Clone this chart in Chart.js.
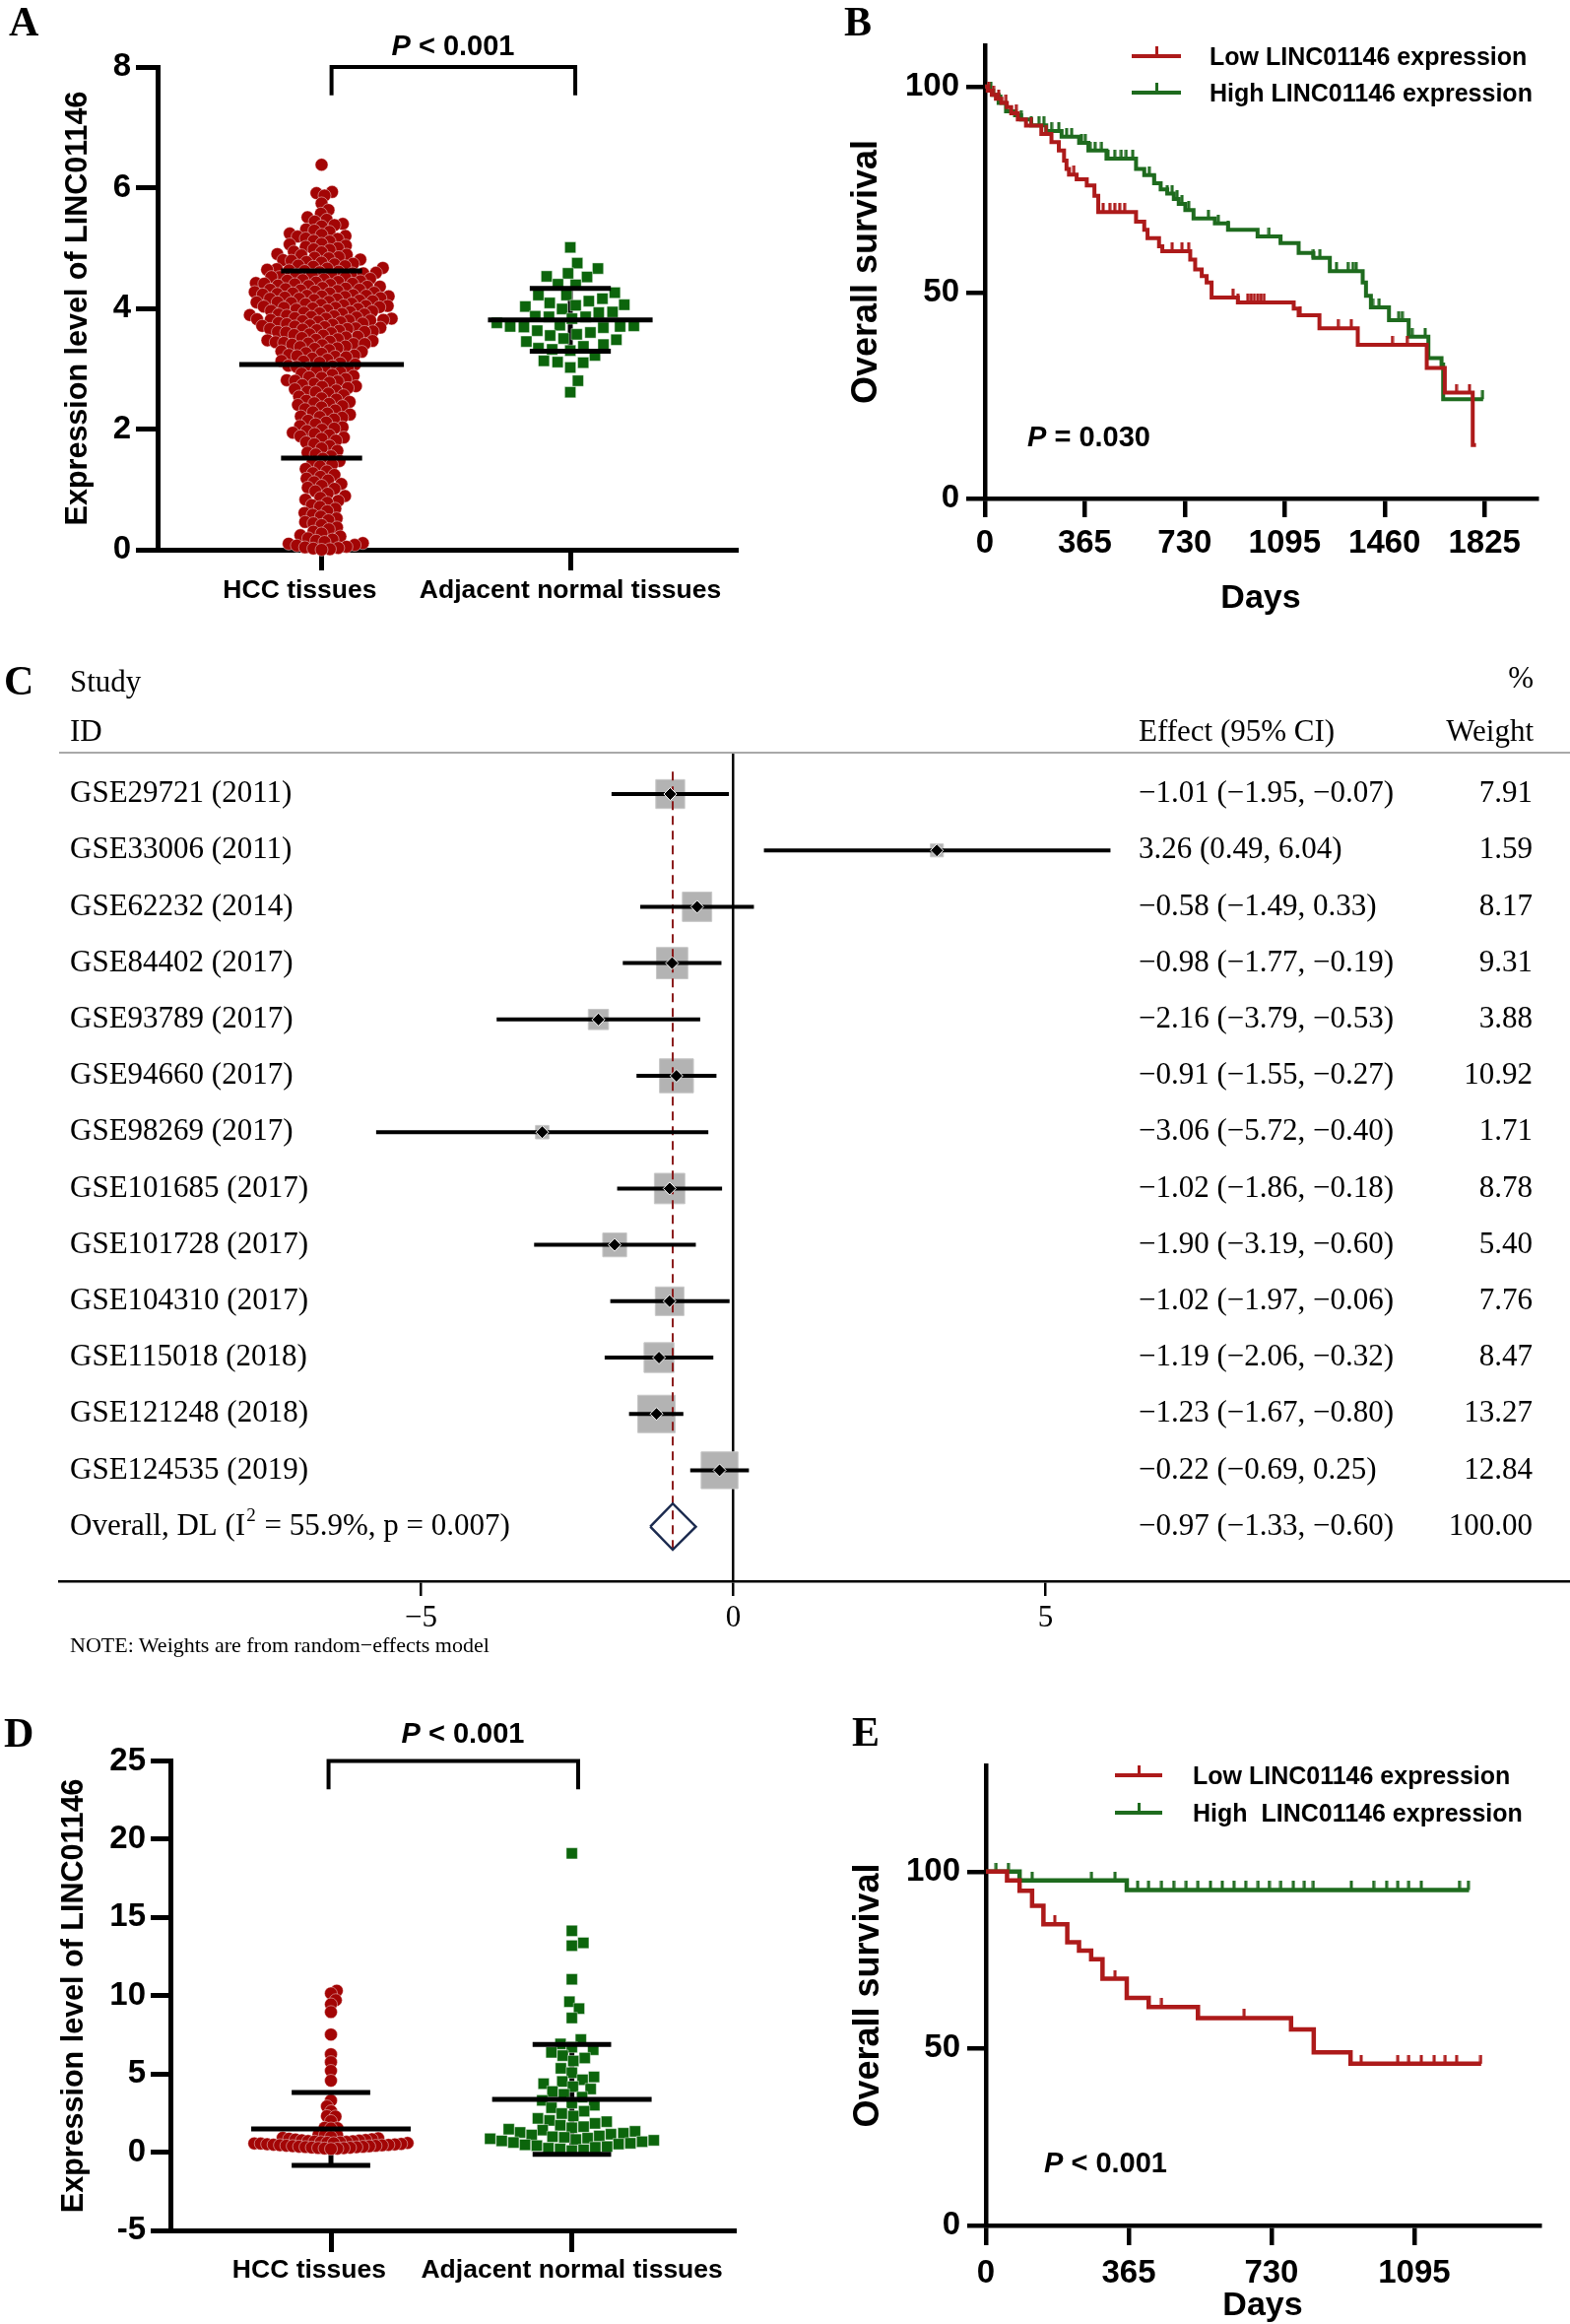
<!DOCTYPE html>
<html>
<head>
<meta charset="utf-8">
<title>LINC01146 expression and survival</title>
<script src="https://cdn.jsdelivr.net/npm/chart.js@4.4.0/dist/chart.umd.min.js"></script>
<style>
  html, body { margin: 0; padding: 0; background: #fff; }
  #page { position: relative; width: 1594px; height: 2359px; overflow: hidden; background: #fff; }
  .box { position: absolute; }
  .txt { position: absolute; line-height: 0; white-space: pre; color: #000; }
  .sans { font-family: "Liberation Sans", Arial, Helvetica, sans-serif; font-weight: bold; }
  .serif { font-family: "Liberation Serif", "Times New Roman", serif; }
  .letter { font-family: "Liberation Serif", "Times New Roman", serif; font-weight: bold; font-size: 42px; }
  .key { position: absolute; height: 4px; }
  .key::after { content: ''; position: absolute; left: 50%; margin-left: -1.5px; bottom: 4px; width: 3px; height: 8px; background: inherit; }
  .rule { position: absolute; height: 2px; background: #a9a9a9; }
</style>
</head>
<body>
<div id="page">
  <div class="box" style="left:0;top:0;width:790px;height:640px"><canvas id="chartA"></canvas></div>
  <div class="box" style="left:800px;top:0;width:794px;height:650px"><canvas id="chartB"></canvas></div>
  <div class="box" style="left:0;top:660px;width:1594px;height:1040px"><canvas id="chartC"></canvas></div>
  <div class="box" style="left:0;top:1720px;width:790px;height:660px"><canvas id="chartD"></canvas></div>
  <div class="box" style="left:800px;top:1720px;width:794px;height:660px"><canvas id="chartE"></canvas></div>

  <!-- panel letters -->
  <div class="txt letter" style="left:9px;top:22px">A</div>
  <div class="txt letter" style="left:857px;top:22px">B</div>
  <div class="txt letter" style="left:4px;top:691px">C</div>
  <div class="txt letter" style="left:4px;top:1759px">D</div>
  <div class="txt letter" style="left:865px;top:1758px">E</div>

  <!-- p values -->
  <div class="txt sans" style="left:460px;top:46px;font-size:29px;transform:translateX(-50%)"><i>P</i> &lt; 0.001</div>
  <div class="txt sans" style="left:1043px;top:443px;font-size:29px"><i>P</i> = 0.030</div>
  <div class="txt sans" style="left:470px;top:1759px;font-size:29px;transform:translateX(-50%)"><i>P</i> &lt; 0.001</div>
  <div class="txt sans" style="left:1060px;top:2195px;font-size:29px"><i>P</i> &lt; 0.001</div>

  <!-- survival legends -->
  <div class="key" style="left:1149px;top:55px;width:50px;background:#ad1a1a"></div>
  <div class="txt sans" style="left:1228px;top:57px;font-size:25px">Low LINC01146 expression</div>
  <div class="key" style="left:1149px;top:92px;width:50px;background:#1e6b1e"></div>
  <div class="txt sans" style="left:1228px;top:94px;font-size:25px">High LINC01146 expression</div>

  <div class="key" style="left:1132px;top:1800px;width:48px;background:#ad1a1a"></div>
  <div class="txt sans" style="left:1211px;top:1802px;font-size:25px">Low LINC01146 expression</div>
  <div class="key" style="left:1132px;top:1838px;width:48px;background:#1e6b1e"></div>
  <div class="txt sans" style="left:1211px;top:1840px;font-size:25px">High  LINC01146 expression</div>

  <!-- forest plot header -->
  <div class="txt serif" style="left:71px;top:692px;font-size:31px">Study</div>
  <div class="txt serif" style="left:71px;top:742px;font-size:31px">ID</div>
  <div class="txt serif" style="left:1557px;top:688px;font-size:31px;transform:translateX(-100%)">%</div>
  <div class="txt serif" style="left:1156px;top:742px;font-size:31px">Effect (95% CI)</div>
  <div class="txt serif" style="left:1557px;top:742px;font-size:31px;transform:translateX(-100%)">Weight</div>
  <div class="rule" style="left:60px;top:763px;width:1534px"></div>
  <div class="txt serif" style="left:71px;top:1670px;font-size:22px">NOTE: Weights are from random−effects model</div>
</div>

<script>
/* ── Couleurs et polices ── */
const RED = '#a30505';
const GREEN = '#0c650c';
const KM_RED = '#ad1a1a';
const KM_GREEN = '#1e6b1e';
const SANS = '"Liberation Sans", Arial, Helvetica, sans-serif';
const SERIF = '"Liberation Serif", "Times New Roman", serif';

/* ── A : expression TCGA ── */
const groupNames = ['HCC tissues', 'Adjacent normal tissues'];
const yTicksA = [0, 2, 4, 6, 8];
const hccA = [
  6.38, 5.93, 5.91, 5.87, 5.74, 5.63, 5.57, 5.51, 5.47, 5.44, 5.40,
  5.38, 5.36, 5.31, 5.29, 5.27, 5.24, 5.22, 5.20, 5.19, 5.16, 5.15, 5.12, 5.11, 5.07, 5.06, 5.04, 5.02, 5.00,
  4.98, 4.97, 4.94, 4.93, 4.90, 4.89, 4.88, 4.85, 4.84, 4.83, 4.81, 4.80,
  4.79, 4.77, 4.76, 4.74, 4.73, 4.71, 4.70, 4.69, 4.67, 4.66, 4.65, 4.64, 4.63, 4.62, 4.61, 4.60,
  4.59, 4.58, 4.58, 4.56, 4.55, 4.54, 4.52, 4.52, 4.51, 4.49, 4.48, 4.47, 4.46, 4.45, 4.44, 4.43, 4.42, 4.41, 4.41, 4.40,
  4.39, 4.38, 4.37, 4.36, 4.36, 4.34, 4.33, 4.32, 4.31, 4.31, 4.30, 4.29, 4.28, 4.27, 4.26, 4.25, 4.25, 4.24, 4.23, 4.22, 4.21, 4.21, 4.20, 4.20,
  4.19, 4.18, 4.17, 4.16, 4.16, 4.15, 4.14, 4.13, 4.12, 4.11, 4.10, 4.10, 4.09, 4.08, 4.07, 4.06, 4.05, 4.04, 4.04, 4.03, 4.02, 4.01, 4.01, 4.00,
  3.99, 3.98, 3.97, 3.96, 3.95, 3.94, 3.93, 3.92, 3.91, 3.90, 3.90, 3.89, 3.88, 3.87, 3.86, 3.85, 3.84, 3.83, 3.83, 3.82, 3.81, 3.81, 3.80, 3.80,
  3.79, 3.78, 3.77, 3.76, 3.75, 3.74, 3.73, 3.72, 3.71, 3.70, 3.69, 3.68, 3.67, 3.66, 3.66, 3.65, 3.64, 3.63, 3.62, 3.61, 3.61, 3.60,
  3.59, 3.57, 3.56, 3.55, 3.53, 3.52, 3.51, 3.49, 3.48, 3.47, 3.46, 3.45, 3.44, 3.43, 3.42, 3.41, 3.41, 3.40,
  3.39, 3.37, 3.36, 3.34, 3.33, 3.31, 3.29, 3.28, 3.26, 3.25, 3.23, 3.22, 3.21, 3.20,
  3.19, 3.17, 3.15, 3.13, 3.12, 3.10, 3.09, 3.07, 3.05, 3.04, 3.03, 3.01, 3.00,
  2.99, 2.96, 2.94, 2.92, 2.90, 2.88, 2.86, 2.85, 2.83, 2.81, 2.80,
  2.79, 2.77, 2.75, 2.73, 2.71, 2.70, 2.68, 2.66, 2.64, 2.62, 2.61,
  2.59, 2.56, 2.54, 2.51, 2.49, 2.47, 2.45, 2.43, 2.42, 2.40,
  2.38, 2.36, 2.33, 2.31, 2.28, 2.26, 2.24, 2.21, 2.20,
  2.19, 2.16, 2.14, 2.11, 2.08, 2.05, 2.03, 2.01,
  1.99, 1.97, 1.94, 1.92, 1.90, 1.88, 1.86, 1.84, 1.81,
  1.78, 1.75, 1.72, 1.68, 1.64, 1.61, 1.58, 1.55, 1.51, 1.47, 1.44, 1.41,
  1.38, 1.34, 1.30, 1.27, 1.24, 1.21, 1.18, 1.15, 1.12, 1.09, 1.06, 1.03, 1.01,
  0.97, 0.93, 0.89, 0.86, 0.83, 0.81, 0.78, 0.74, 0.71, 0.68, 0.64, 0.61,
  0.58, 0.55, 0.52, 0.49, 0.46, 0.44, 0.41, 0.37, 0.34,
  0.30, 0.27, 0.24, 0.22, 0.19, 0.17, 0.15, 0.13, 0.11, 0.10, 0.08, 0.07, 0.05, 0.04, 0.03, 0.02, 0.01, 0.00
];
const normalA = [
  5.01, 4.66, 4.75, 4.58, 4.52, 4.53, 4.39, 4.40, 4.22, 4.22, 4.26, 4.12, 4.09, 4.16, 4.03, 4.05, 4.06,
  3.99, 3.94, 3.93, 3.86, 3.83, 3.87, 3.86, 3.76, 3.70, 3.71, 3.69, 3.68, 3.70, 3.72, 3.60, 3.57, 3.55,
  3.63, 3.48, 3.50, 3.40, 3.45, 3.37, 3.34, 3.32, 3.30, 3.22, 3.11, 3.10, 3.02, 3.13, 2.80, 2.61
];
const hccStatA = [3.07, 1.55];     // moyenne, écart-type
const normalStatA = [3.81, 0.52];

/* ── B : survie TCGA ── */
const dayTicksB = [0, 365, 730, 1095, 1460, 1825];
const survTicks = [0, 50, 100];
const lowTimeB = [0, 10, 25, 40, 60, 80, 96, 120, 150, 206, 243, 270, 289, 298, 307, 335, 372, 400, 414,
  552, 582, 594, 636, 648, 750, 768, 792, 810, 828, 924, 1128, 1146, 1222, 1362, 1614, 1680, 1782, 1794];
const lowSurvB = [100, 99, 98, 97, 96, 95, 93.5, 92, 90.5, 88.5, 86.5, 84.5, 82, 80, 78.6, 77.5, 76, 73.5, 69.5,
  67.2, 65.2, 63.2, 61.2, 60, 58, 55.6, 54, 52.4, 48.8, 47.6, 46.1, 44.5, 41.3, 37.3, 31.7, 25.7, 13, 13];
const lowCensB = [13, 31, 50, 77, 114, 169, 224, 270, 325, 432, 456, 474, 492, 510, 684, 720, 744, 906, 924,
  960, 972, 984, 996, 1008, 1020, 1152, 1290, 1338, 1488, 1542, 1722, 1770];
const highTimeB = [0, 15, 30, 50, 77, 110, 132, 169, 224, 280, 344, 378, 444, 552, 582, 618, 642, 666, 690, 708,
  732, 762, 840, 888, 996, 1080, 1146, 1200, 1260, 1380, 1392, 1410, 1476, 1548, 1620, 1668, 1674, 1820];
const highSurvB = [100, 99, 98, 96, 94, 93, 92, 90.6, 89.2, 87.8, 86.3, 84.5, 82.5, 80, 78.5, 76.5, 75, 74, 72.7, 71.5,
  70, 68, 66.8, 65.2, 63.6, 62, 59.6, 58.4, 55.2, 52.4, 49.2, 46.4, 43.3, 39.3, 34.1, 32.5, 24.1, 24.1];
const highCensB = [22, 59, 132, 169, 197, 215, 243, 270, 298, 317, 353, 366, 384, 402, 426, 450, 474, 498, 516, 540,
  600, 618, 666, 684, 702, 720, 744, 816, 852, 888, 1038, 1080, 1200, 1224, 1284, 1326, 1344, 1356, 1416, 1440,
  1512, 1524, 1560, 1608, 1818];

/* ── C : méta-analyse GEO ── */
const studies = ['GSE29721 (2011)', 'GSE33006 (2011)', 'GSE62232 (2014)', 'GSE84402 (2017)', 'GSE93789 (2017)',
  'GSE94660 (2017)', 'GSE98269 (2017)', 'GSE101685 (2017)', 'GSE101728 (2017)', 'GSE104310 (2017)',
  'GSE115018 (2018)', 'GSE121248 (2018)', 'GSE124535 (2019)'];
const effects = [-1.01, 3.26, -0.58, -0.98, -2.16, -0.91, -3.06, -1.02, -1.90, -1.02, -1.19, -1.23, -0.22];
const lowerCI = [-1.95, 0.49, -1.49, -1.77, -3.79, -1.55, -5.72, -1.86, -3.19, -1.97, -2.06, -1.67, -0.69];
const upperCI = [-0.07, 6.04, 0.33, -0.19, -0.53, -0.27, -0.40, -0.18, -0.60, -0.06, -0.32, -0.80, 0.25];
const weights = [7.91, 1.59, 8.17, 9.31, 3.88, 10.92, 1.71, 8.78, 5.40, 7.76, 8.47, 13.27, 12.84];
const overallCI = [-0.97, -1.33, -0.60];   // effet, borne basse, borne haute
const overallWeight = 100;
const forestTicks = [-5, 0, 5];

/* ── D : expression cohorte ── */
const yTicksD = [-5, 0, 5, 10, 15, 20, 25];
const hccD = [10.32, 10.15, 9.72, 9.45, 8.96, 7.52, 6.26, 5.76, 5.20, 4.57, 3.30, 2.93, 2.62, 2.31, 2.28, 1.99,
  1.56, 1.54, 1.52, 1.12, 1.10, 1.08, 0.97, 0.92, 0.89, 0.86, 0.83, 0.81, 0.78, 0.76, 0.74, 0.71, 0.70, 0.68,
  0.66, 0.64, 0.63, 0.61, 0.59, 0.58, 0.56, 0.55, 0.53, 0.51, 0.50, 0.48, 0.47, 0.45, 0.44, 0.42, 0.41, 0.39,
  0.38, 0.36, 0.35, 0.33, 0.32, 0.30, 0.29, 0.27, 0.26, 0.24, 0.23, 0.21];
const normalD = [19.10, 14.15, 13.38, 13.20, 11.05, 9.62, 9.18, 8.58, 7.20, 6.92, 6.71, 6.55, 6.38, 6.17, 6.02,
  5.83, 5.36, 5.08, 4.81, 4.63, 4.52, 4.38, 4.19, 4.04, 3.88, 3.70, 3.52, 3.31, 3.14, 3.00, 2.84, 2.62, 2.47,
  2.31, 2.16, 2.03, 1.95, 1.84, 1.72, 1.63, 1.56, 1.47, 1.41, 1.33, 1.26, 1.21, 1.15, 1.10, 1.04, 0.99, 0.95,
  0.90, 0.86, 0.81, 0.76, 0.72, 0.67, 0.62, 0.57, 0.52, 0.47, 0.42, 0.36, 0.31, 0.26, 0.21, 0.15, 0.10];
const hccStatD = [1.48, 2.33];
const normalStatD = [3.38, 3.51];

/* ── E : survie cohorte ── */
const dayTicksE = [0, 365, 730, 1095];
const lowTimeE = [0, 54, 86, 118, 147, 208, 238, 269, 298, 360, 416, 542, 780, 838, 932, 1266];
const lowSurvE = [100, 97.5, 94.6, 90.3, 85.1, 80, 77.7, 75.2, 69.7, 64.3, 61.7, 58.6, 55.4, 48.9, 45.7, 45.7];
const lowCensE = [176, 330, 449, 660, 959, 1053, 1081, 1113, 1146, 1174, 1203, 1265];
const highTimeE = [0, 86, 360, 1235];
const highSurvE = [100, 97.5, 94.8, 94.8];
const highCensE = [26, 57, 118, 270, 330, 388, 416, 449, 480, 512, 542, 574, 604, 634, 664, 696, 724, 754, 786,
  814, 837, 934, 991, 1024, 1053, 1081, 1113, 1210, 1233];

/* ── Outils ── */
const sansFont = size => ({ family: SANS, size, weight: 'bold' });
const numLabel = v => String(v);
const GAP = { x: null, y: null };

function xAxis(o) {
  return {
    type: 'linear', min: o.min, max: o.max,
    afterFit: s => { s.height = o.height; },
    afterBuildTicks: s => { s.ticks = o.ticks.map(v => ({ value: v })); },
    ticks: { autoSkip: false, maxRotation: 0, padding: o.pad, color: '#000', font: o.font, callback: o.label || numLabel },
    grid: { drawOnChartArea: false, tickLength: o.tick, lineWidth: o.lw, color: '#000' },
    border: { color: '#000', width: o.lw },
    title: o.title ? { display: true, text: o.title, color: '#000', font: sansFont(34), padding: { top: 0, bottom: o.titlePad } } : { display: false }
  };
}

function yAxis(o) {
  return {
    type: 'linear', min: o.min, max: o.max,
    afterFit: s => { s.width = o.width; },
    afterBuildTicks: s => { s.ticks = o.ticks.map(v => ({ value: v })); },
    ticks: { autoSkip: false, padding: o.pad, color: '#000', font: sansFont(33), callback: numLabel },
    grid: { drawOnChartArea: false, tickLength: o.tick, lineWidth: o.lw, color: '#000' },
    border: { color: '#000', width: o.lw },
    title: { display: true, text: o.title, color: '#000', font: sansFont(o.titleSize), padding: { top: o.titlePad, bottom: 0 } }
  };
}

function baseOptions(padding, scales) {
  return {
    responsive: true, maintainAspectRatio: false, animation: false, events: [],
    layout: { padding, autoPadding: false },
    plugins: { legend: { display: false }, tooltip: { enabled: false } },
    scales
  };
}

/* Moyenne et barres d'écart-type (traits horizontaux) */
function statBars(center, stat, wMean, wSd) {
  const [m, sd] = stat;
  return [
    { x: center - wMean, y: m }, { x: center + wMean, y: m }, GAP,
    { x: center - wSd, y: m + sd }, { x: center + wSd, y: m + sd }, GAP,
    { x: center - wSd, y: m - sd }, { x: center + wSd, y: m - sd }, GAP
  ];
}
/* Trait vertical de l'écart-type */
const statStem = (center, stat) => [{ x: center, y: stat[0] - stat[1] }, { x: center, y: stat[0] + stat[1] }, GAP];

/* Nuage en essaim (beeswarm) calculé à partir des valeurs */
function swarm(chart, dsIndex, center, values, gap) {
  const xs = chart.scales.x, ys = chart.scales.y;
  const cx = xs.getPixelForValue(center);
  const placed = [];
  const out = new Array(values.length);
  const order = values.map((v, i) => i).sort((a, b) => values[a] - values[b]);
  order.forEach(i => {
    const py = ys.getPixelForValue(values[i]);
    const near = placed.filter(p => Math.abs(p.y - py) < gap);
    const cands = [0];
    near.forEach(p => {
      const dx = Math.sqrt(gap * gap - (p.y - py) * (p.y - py));
      cands.push(p.x - cx + dx, p.x - cx - dx);
    });
    cands.sort((a, b) => Math.abs(a) - Math.abs(b));
    let px = cx;
    for (const c of cands) {
      const x = cx + c;
      if (near.every(p => (p.x - x) * (p.x - x) + (p.y - py) * (p.y - py) >= gap * gap - 0.01)) { px = x; break; }
    }
    placed.push({ x: px, y: py });
    out[i] = { x: xs.getValueForPixel(px), y: values[i] };
  });
  chart.data.datasets[dsIndex].data = out;
}

/* Kaplan-Meier */
const kmLine = (times, surv) => times.map((t, i) => ({ x: t, y: surv[i] }));
function survAt(times, surv, t) {
  let s = surv[0];
  times.forEach((ti, i) => { if (ti <= t) s = surv[i]; });
  return s;
}
const kmCensor = (cens, times, surv) => cens.map(t => ({ x: t, y: survAt(times, surv, t) }));
function tickSprite(color, h) {
  const c = document.createElement('canvas');
  c.width = 4; c.height = h * 2;
  const g = c.getContext('2d');
  g.fillStyle = color;
  g.fillRect(0.5, 0, 3, h);
  return c;
}

/* ── Panneaux de dispersion (A et D) ── */
function dotPanel(id, o) {
  const chart = new Chart(document.getElementById(id), {
    type: 'scatter',
    data: {
      datasets: [
        { data: statBars(1, o.hccStat, 0.331, 0.163).concat(statBars(2, o.normalStat, 0.331, 0.163)),
          showLine: true, borderColor: '#000', borderWidth: 5, pointRadius: 0, order: 0, clip: false },
        { data: [{ x: o.bracketX[0], y: o.bracketLeg }, { x: o.bracketX[0], y: o.max }, { x: o.bracketX[1], y: o.max }, { x: o.bracketX[1], y: o.bracketLeg }],
          showLine: true, borderColor: '#000', borderWidth: 4, pointRadius: 0, order: 0, clip: false },
        { data: o.hcc.map(v => ({ x: 1, y: v })), pointRadius: 6.5, backgroundColor: RED,
          borderColor: 'rgba(255,255,255,0.55)', borderWidth: 0.8, order: 2, clip: false },
        { data: o.normal.map(v => ({ x: 2, y: v })), pointStyle: 'rect', pointRadius: 8, backgroundColor: GREEN,
          borderColor: 'rgba(255,255,255,0.55)', borderWidth: 0.8, order: 1, clip: false },
        { data: statStem(1, o.hccStat).concat(statStem(2, o.normalStat)),
          showLine: true, borderColor: '#000', borderWidth: 5, pointRadius: 0, order: 3, clip: false }
      ]
    },
    options: baseOptions(o.padding, {
      x: xAxis({ min: o.xmin, max: o.xmax, height: o.xHeight, ticks: [1, 2], pad: o.xPad, tick: o.xTick, lw: 5,
        font: sansFont(26.5), label: (v, i) => i === 0 ? groupNames[0] + '      ' : groupNames[i] }),
      y: yAxis({ min: o.min, max: o.max, width: o.yWidth, ticks: o.yTicks, pad: 5, tick: o.yTick, lw: 5,
        title: 'Expression level of LINC01146', titleSize: 30.5, titlePad: o.titlePad })
    })
  });
  swarm(chart, 2, 1, o.hcc, o.gapHcc);
  swarm(chart, 3, 2, o.normal, o.gapNormal);
  chart.update('none');
  return chart;
}

dotPanel('chartA', {
  hcc: hccA, normal: normalA, hccStat: hccStatA, normalStat: normalStatA,
  min: 0, max: 8, yTicks: yTicksA, xmin: 0.3406, xmax: 2.6653,
  padding: { left: 0, top: 68, right: 43, bottom: 0 }, yWidth: 160, xHeight: 82,
  xPad: 5, xTick: 21, yTick: 22, titlePad: 61,
  bracketX: [1.04, 2.02], bracketLeg: 7.53, gapHcc: 8.5, gapNormal: 14
});

dotPanel('chartD', {
  hcc: hccD, normal: normalD, hccStat: hccStatD, normalStat: normalStatD,
  min: -5, max: 25, yTicks: yTicksD, xmin: 0.3336, xmax: 2.672,
  padding: { left: 0, top: 67.6, right: 45, bottom: 0 }, yWidth: 173, xHeight: 116,
  xPad: 3, xTick: 22, yTick: 20, titlePad: 57,
  bracketX: [0.99, 2.026], bracketLeg: 23.2, gapHcc: 6.5, gapNormal: 12
});

/* ── Panneaux de survie (B et E) ── */
function kmPanel(id, o) {
  return new Chart(document.getElementById(id), {
    type: 'scatter',
    data: {
      datasets: [
        { data: kmLine(o.lowT, o.lowS), showLine: true, stepped: true, borderColor: KM_RED, borderWidth: o.lw, pointRadius: 0, order: 0, clip: false },
        { data: kmLine(o.highT, o.highS), showLine: true, stepped: true, borderColor: KM_GREEN, borderWidth: o.lw, pointRadius: 0, order: 1, clip: false },
        { data: kmCensor(o.lowC, o.lowT, o.lowS), pointStyle: tickSprite(KM_RED, 9), pointRadius: 5, order: 0, clip: false },
        { data: kmCensor(o.highC, o.highT, o.highS), pointStyle: tickSprite(KM_GREEN, 9), pointRadius: 5, order: 1, clip: false }
      ]
    },
    options: baseOptions(o.padding, {
      x: xAxis({ min: 0, max: o.xmax, height: o.xHeight, ticks: o.xTicks, pad: o.xPad, tick: o.xTick, lw: 4.5,
        font: sansFont(33), title: 'Days', titlePad: o.daysPad }),
      y: yAxis({ min: 0, max: o.ymax, width: o.yWidth, ticks: survTicks, pad: 7, tick: 19, lw: 4.5,
        title: 'Overall survival', titleSize: 36, titlePad: o.titlePad })
    })
  });
}

kmPanel('chartB', {
  lowT: lowTimeB, lowS: lowSurvB, lowC: lowCensB, highT: highTimeB, highS: highSurvB, highC: highCensB,
  xmax: 2015, ymax: 110, xTicks: dayTicksB, lw: 4,
  padding: { left: 0, top: 46, right: 34, bottom: 0 }, yWidth: 200, xHeight: 144,
  xPad: 7, xTick: 19, daysPad: 21.6, titlePad: 58.4
});

kmPanel('chartE', {
  lowT: lowTimeE, lowS: lowSurvE, lowC: lowCensE, highT: highTimeE, highS: highSurvE, highC: highCensE,
  xmax: 1415, ymax: 130, xTicks: dayTicksE, lw: 4.5,
  padding: { left: 0, top: 72, right: 31, bottom: 0 }, yWidth: 201, xHeight: 121,
  xPad: 9, xTick: 20, daysPad: 18.6, titlePad: 60
});

/* ── C : forest plot ── */
const fmt = v => (v < 0 ? '−' : '') + Math.abs(v).toFixed(2);
const ciText = (e, lo, hi) => `${fmt(e)} (${fmt(lo)}, ${fmt(hi)})`;
const rows = studies.map((s, i) => i + 1);
const overallRow = studies.length + 1;
const SQUARE_K = 10.43;

const ciSegments = [];
rows.forEach((r, i) => {
  ciSegments.push({ x: lowerCI[i], y: r }, { x: upperCI[i], y: r }, GAP);
});
const [oEst, oLo, oHi] = overallCI;
const diamondH = 0.41;

const forestText = {
  id: 'forestText',
  afterDraw(chart) {
    const { ctx, scales: { y } } = chart;
    ctx.save();
    ctx.fillStyle = '#000';
    ctx.textBaseline = 'middle';
    ctx.font = `31px ${SERIF}`;
    studies.forEach((s, i) => {
      const py = y.getPixelForValue(rows[i]);
      ctx.textAlign = 'left';
      ctx.fillText(s, 71, py);
      ctx.fillText(ciText(effects[i], lowerCI[i], upperCI[i]), 1156, py);
      ctx.textAlign = 'right';
      ctx.fillText(weights[i].toFixed(2), 1556, py);
    });
    const py = y.getPixelForValue(overallRow);
    ctx.textAlign = 'left';
    let x = 71;
    const part1 = 'Overall, DL (I';
    ctx.fillText(part1, x, py);
    x += ctx.measureText(part1).width;
    ctx.font = `19px ${SERIF}`;
    ctx.fillText('2', x + 1, py - 11);
    x += ctx.measureText('2').width + 2;
    ctx.font = `31px ${SERIF}`;
    ctx.fillText(' = 55.9%, p = 0.007)', x, py);
    ctx.fillText(ciText(oEst, oLo, oHi), 1156, py);
    ctx.textAlign = 'right';
    ctx.fillText(overallWeight.toFixed(2), 1556, py);
    ctx.restore();
  }
};

new Chart(document.getElementById('chartC'), {
  type: 'scatter',
  data: {
    datasets: [
      { data: rows.map((r, i) => ({ x: effects[i], y: r })), pointStyle: 'rectRot', pointRadius: 6.5,
        backgroundColor: '#000', borderColor: '#fff', borderWidth: 1, order: 0, clip: false },
      { data: ciSegments, showLine: true, borderColor: '#000', borderWidth: 4, pointRadius: 0, order: 1 },
      { data: [{ x: oLo, y: overallRow }, { x: oEst, y: overallRow - diamondH }, { x: oHi, y: overallRow },
               { x: oEst, y: overallRow + diamondH }, { x: oLo, y: overallRow }],
        showLine: true, borderColor: '#1c2b4f', borderWidth: 2.5, borderJoinStyle: 'miter', pointRadius: 0, order: 1 },
      { data: [{ x: oEst, y: 0.6 }, { x: oEst, y: 14.42 }], showLine: true, borderColor: '#8b1c1c',
        borderWidth: 2, borderDash: [9, 6], pointRadius: 0, order: 2 },
      { data: rows.map((r, i) => ({ x: effects[i], y: r })), pointStyle: 'rect',
        pointRadius: c => SQUARE_K * Math.sqrt(weights[c.dataIndex]) / Math.SQRT2,
        backgroundColor: '#b3b3b3', borderColor: '#c8c8c8', borderWidth: 1, order: 3, clip: false }
    ]
  },
  options: baseOptions({ left: 60, top: 105, right: 0, bottom: 0 }, {
    x: {
      type: 'linear', min: -10.797, max: 13.399,
      afterFit: s => { s.height = 95; },
      afterBuildTicks: s => { s.ticks = forestTicks.map(v => ({ value: v })); },
      ticks: { autoSkip: false, maxRotation: 0, padding: 4, color: '#000', font: { family: SERIF, size: 31 },
        callback: v => (v < 0 ? '−' : '') + Math.abs(v) },
      grid: { drawOnChartArea: true, tickLength: 15, lineWidth: 2.5, tickColor: '#000',
        color: c => (c.tick && c.tick.value === 0) ? '#000' : 'rgba(0,0,0,0)' },
      border: { color: '#000', width: 2.5 }
    },
    y: { type: 'linear', display: false, reverse: true, min: 0.283, max: 14.968 }
  }),
  plugins: [forestText]
});
</script>
</body>
</html>
